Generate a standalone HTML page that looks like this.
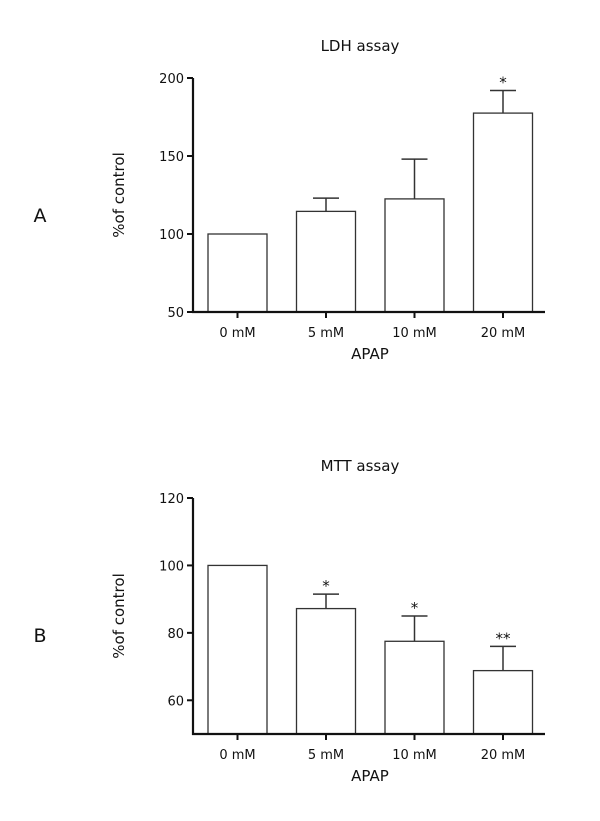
<!DOCTYPE html>
<html><head><meta charset="utf-8"><style>
body{margin:0;background:#fff;}
svg text{font-family:"DejaVu Sans","Liberation Sans",sans-serif;fill:#111;}
</style></head><body>
<svg id="s" width="600" height="816">
<text x="40" y="222" font-size="19" text-anchor="middle">A</text>
<text x="40" y="642" font-size="19" text-anchor="middle">B</text>
</svg>
<script>
const categories=["0 mM","5 mM","10 mM","20 mM"];
const ldhValues=[100,114.5,122.5,177.5];
const ldhErr=[0,8.5,25.5,14.5];
const ldhSig=["","","","*"];
const ldhTicks=[50,100,150,200];
const mttValues=[100,87.2,77.5,68.8];
const mttErr=[0,4.3,7.5,7.2];
const mttSig=["","*","*","**"];
const mttTicks=[60,80,100,120];
const NS="http://www.w3.org/2000/svg";
const svg=document.getElementById('s');
function mk(t,a,txt){const e=document.createElementNS(NS,t);for(const k in a)e.setAttribute(k,a[k]);if(txt!==undefined)e.textContent=txt;svg.appendChild(e);return e;}
function chart(p,title,vals,errs,sig,ticks,ymin,ymax,top,bottom){
 const x0=193,step=88.5,first=237.5,bw=59;
 const y=v=>bottom-(v-ymin)/(ymax-ymin)*(bottom-top);
 let e=mk('text',{x:360,y:top-27,'font-size':15,'text-anchor':'middle'},title);
 
 
 vals.forEach((v,i)=>{
  const cx=first+i*step;
  if(errs[i]>0){
   let l=mk('line',{x1:cx,x2:cx,y1:y(v),y2:y(v+errs[i]),stroke:'#333','stroke-width':1.5});
   
   
   let c=mk('line',{x1:cx-13,x2:cx+13,y1:y(v+errs[i]),y2:y(v+errs[i]),stroke:'#333','stroke-width':1.5});
   
   
  }
  let r=mk('rect',{x:cx-bw/2,y:y(v),width:bw,height:bottom-y(v),fill:'#fff',stroke:'#333','stroke-width':1.3});
  
  
  if(sig[i]){let s=mk('text',{x:cx,y:y(v+errs[i])-3,'font-size':15,'text-anchor':'middle'},sig[i]);
   
   }
  let t=mk('line',{x1:cx,x2:cx,y1:bottom,y2:bottom+6,stroke:'#111','stroke-width':2});
  
  
  let lb=mk('text',{x:cx,y:bottom+25,'font-size':13,'text-anchor':'middle'},categories[i]);
  
  
 });
 ticks.forEach(tv=>{
  let t=mk('line',{x1:x0-6,x2:x0,y1:y(tv),y2:y(tv),stroke:'#111','stroke-width':2});
  
  
  let l=mk('text',{x:x0-9,y:y(tv)+5,'font-size':13,'text-anchor':'end'},tv);
  
  
 });
 let ya=mk('line',{x1:x0,x2:x0,y1:top,y2:bottom+1,stroke:'#111','stroke-width':2.2});
 
 
 let xa=mk('line',{x1:x0-1,x2:545,y1:bottom,y2:bottom,stroke:'#111','stroke-width':2.2});
 
 
 let yt=mk('text',{x:0,y:0,'font-size':15,'text-anchor':'middle',transform:`translate(124,${(top+bottom)/2}) rotate(-90)`},'%of control');
 
 
 let xt=mk('text',{x:370,y:bottom+47,'font-size':15,'text-anchor':'middle'},'APAP');
 
 
}
chart('ldh','LDH  assay',ldhValues,ldhErr,ldhSig,ldhTicks,50,200,78,312);
chart('mtt','MTT  assay',mttValues,mttErr,mttSig,mttTicks,50,120,498,734);
</script>
</body></html>
